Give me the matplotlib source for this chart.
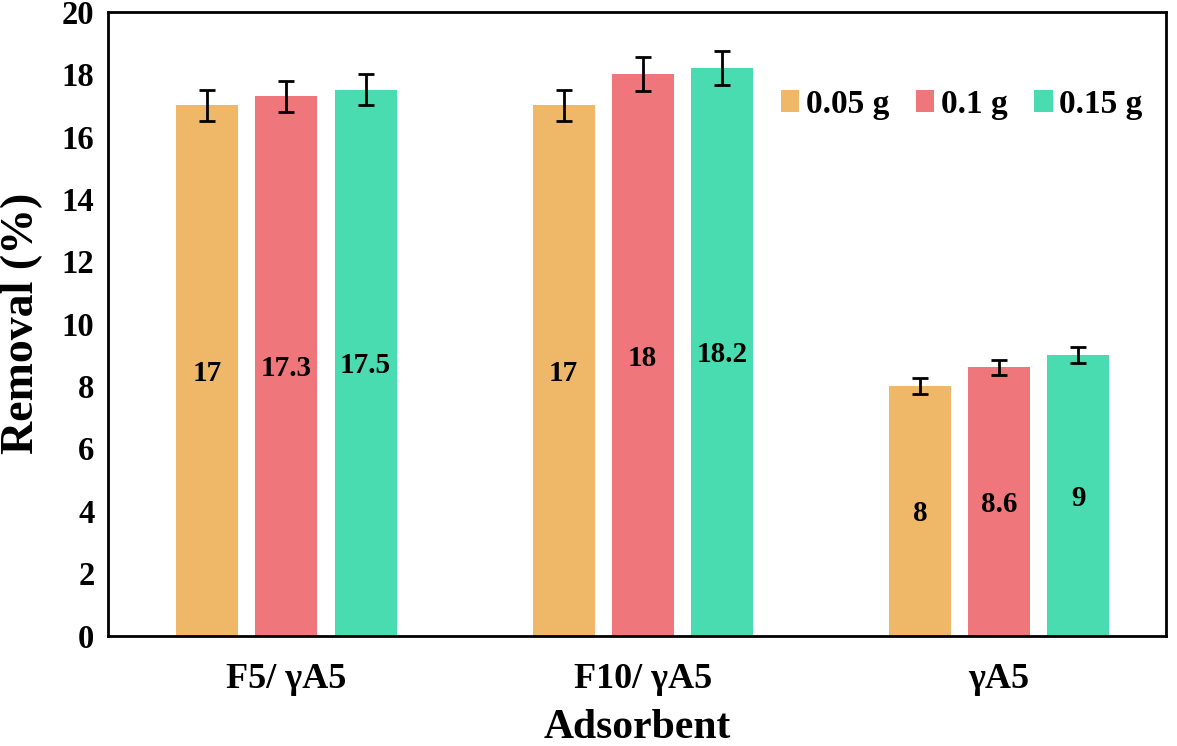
import matplotlib.pyplot as plt
import numpy as np

plt.rcParams['font.family'] = 'Liberation Serif'
plt.rcParams['font.weight'] = 'bold'

groups = ['F5/ \u03b3A5', 'F10/ \u03b3A5', '\u03b3A5']
doses = ['0.05 g', '0.1 g', '0.15 g']
removal = [
    [17, 17, 8],
    [17.3, 18, 8.6],
    [17.5, 18.2, 9],
]
errors = [
    [0.5, 0.5, 0.25],
    [0.5, 0.55, 0.25],
    [0.5, 0.55, 0.25],
]
labels = [
    ['17', '17', '8'],
    ['17.3', '18', '8.6'],
    ['17.5', '18.2', '9'],
]
colors = ['#EEB868', '#EF767A', '#49DCB1']

fig = plt.figure(figsize=(11.77, 7.46), dpi=100)
ax = fig.add_axes([0.092, 0.148, 0.899, 0.836])

x = np.arange(len(groups))
step = 0.222
width = 0.174
for i in range(3):
    pos = x + (i - 1) * step
    ax.bar(pos, removal[i], width, color=colors[i], label=doses[i],
           yerr=errors[i], capsize=6,
           error_kw=dict(elinewidth=2, capthick=2, ecolor='black'))
    for j in range(len(groups)):
        ax.text(pos[j], removal[i][j] / 2 - 0.1, labels[i][j], ha='center',
                va='center', fontsize=21, fontweight='bold')

ax.set_xlim(-0.5, 2.47)
ax.set_ylim(0, 20)
ax.set_yticks(np.arange(0, 21, 2))
ax.set_xticks(x)
ax.set_xticklabels(groups)
ax.tick_params(length=0, pad=10)
ax.tick_params(axis='y', labelsize=23.5)
ax.tick_params(axis='x', labelsize=26, pad=20)
for s in ax.spines.values():
    s.set_linewidth(2)

ax.set_xlabel('Adsorbent', fontsize=30, fontweight='bold', labelpad=9)
ax.set_ylabel('Removal (%)', fontsize=33, fontweight='bold')
ax.yaxis.set_label_coords(-0.062, 0.5)

ax.legend(loc='upper right', bbox_to_anchor=(1.006, 0.925), ncol=3, frameon=False,
          fontsize=24, handlelength=0.55, handleheight=0.6, handletextpad=0.2,
          columnspacing=0.8)

fig.savefig('out.png', dpi=100)
